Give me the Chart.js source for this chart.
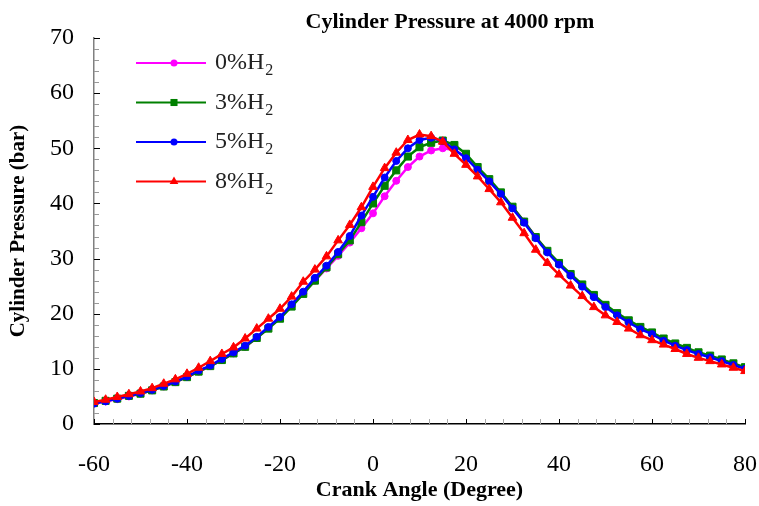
<!DOCTYPE html>
<html>
<head>
<meta charset="utf-8">
<script src="https://cdn.jsdelivr.net/npm/chart.js@4.4.0/dist/chart.umd.min.js"></script>
<style>
  html, body { margin: 0; padding: 0; background: #fff; }
  #wrap { width: 759px; height: 506px; }
</style>
</head>
<body>
<div id="wrap"><canvas id="pressureChart"></canvas></div>
<script>
// crank angle (deg) and cylinder pressure (bar)
const crankAngle = [-60, -57.5, -55, -52.5, -50, -47.5, -45, -42.5, -40, -37.5,
  -35, -32.5, -30, -27.5, -25, -22.5, -20, -17.5, -15, -12.5,
  -10, -7.5, -5, -2.5, 0, 2.5, 5, 7.5, 10, 12.5,
  15, 17.5, 20, 22.5, 25, 27.5, 30, 32.5, 35, 37.5,
  40, 42.5, 45, 47.5, 50, 52.5, 55, 57.5, 60, 62.5,
  65, 67.5, 70, 72.5, 75, 77.5, 80];

const h2_0 = [3.7, 4.1, 4.5, 5.0, 5.5, 6.1, 6.8, 7.6, 8.5, 9.5,
  10.5, 11.6, 12.8, 14.0, 15.6, 17.4, 19.2, 21.4, 23.7, 26.0,
  28.2, 30.5, 32.9, 35.5, 38.2, 41.3, 44.1, 46.6, 48.5, 49.6,
  50.0, 49.7, 48.4, 46.3, 44.2, 41.9, 39.3, 36.7, 33.9, 31.3,
  29.1, 27.1, 25.1, 23.2, 21.4, 19.9, 18.6, 17.4, 16.4, 15.3,
  14.4, 13.6, 12.8, 12.2, 11.5, 10.8, 10.1];

const h2_3 = [3.8, 4.2, 4.6, 5.1, 5.5, 6.1, 6.8, 7.6, 8.5, 9.5,
  10.5, 11.6, 12.8, 14.0, 15.6, 17.3, 19.1, 21.3, 23.6, 26.0,
  28.4, 30.8, 33.3, 36.6, 40.0, 43.2, 46.0, 48.5, 50.2, 51.0,
  51.4, 50.6, 49.0, 46.6, 44.4, 42.0, 39.4, 36.7, 33.9, 31.4,
  29.2, 27.2, 25.3, 23.4, 21.6, 20.1, 18.8, 17.6, 16.6, 15.5,
  14.6, 13.8, 13.0, 12.4, 11.7, 11.0, 10.3];

const h2_5 = [3.7, 4.1, 4.6, 5.1, 5.6, 6.2, 6.9, 7.7, 8.6, 9.7,
  10.6, 11.8, 13.0, 14.2, 15.8, 17.6, 19.4, 21.7, 24.0, 26.5,
  28.7, 31.2, 34.1, 37.8, 41.2, 44.7, 47.7, 50.0, 51.5, 51.9,
  51.3, 49.8, 48.2, 46.1, 44.0, 41.7, 39.1, 36.5, 33.7, 31.1,
  28.9, 26.9, 24.9, 23.0, 21.2, 19.7, 18.4, 17.2, 16.3, 15.1,
  14.2, 13.4, 12.7, 12.1, 11.4, 10.7, 10.0];

const h2_8 = [4.0, 4.4, 4.9, 5.4, 5.9, 6.5, 7.3, 8.1, 9.1, 10.2,
  11.4, 12.7, 13.9, 15.5, 17.3, 19.1, 20.9, 23.1, 25.8, 28.0,
  30.4, 33.3, 36.1, 39.3, 43.0, 46.4, 49.2, 51.5, 52.5, 52.2,
  51.2, 49.0, 47.0, 44.9, 42.6, 40.2, 37.4, 34.6, 31.6, 29.2,
  27.1, 25.1, 23.2, 21.2, 19.7, 18.5, 17.3, 16.1, 15.2, 14.4,
  13.6, 12.7, 12.0, 11.4, 10.8, 10.2, 9.6];

const legendText = ['0%H', '3%H', '5%H', '8%H']; // subscript 2 added when drawn

const serif = "'Liberation Serif', 'Times New Roman', serif";

function toPoints(values) {
  return values.map((v, i) => ({ x: crankAngle[i], y: v }));
}

function series(label, values, color, style, radius, order) {
  return {
    label: label,
    data: toPoints(values),
    borderColor: color,
    backgroundColor: color,
    borderWidth: 2.5,
    pointStyle: style,
    pointRadius: radius,
    pointBackgroundColor: color,
    pointBorderColor: color,
    pointBorderWidth: 1,
    tension: 0,
    order: order
  };
}

function marker(ctx, style, x, y, r) {
  ctx.beginPath();
  if (style === 'rect') {
    const s = r * Math.SQRT1_2;
    ctx.rect(x - s, y - s, 2 * s, 2 * s);
  } else if (style === 'triangle') {
    ctx.moveTo(x, y - r);
    ctx.lineTo(x + r * 0.87, y + r * 0.5);
    ctx.lineTo(x - r * 0.87, y + r * 0.5);
    ctx.closePath();
  } else {
    ctx.arc(x, y, r, 0, Math.PI * 2);
  }
  ctx.fill();
}

// small tick marks pointing into the plot
const innerTicks = {
  id: 'innerTicks',
  beforeDatasetsDraw(chart) {
    const { ctx, chartArea, scales } = chart;
    ctx.save();
    ctx.lineWidth = 1;
    for (let v = 0; v <= 70; v += 2) {
      const y = Math.round(scales.y.getPixelForValue(v)) + 0.5;
      const major = v % 10 === 0;
      ctx.strokeStyle = major ? '#000' : '#999';
      ctx.beginPath();
      ctx.moveTo(chartArea.left, y);
      ctx.lineTo(chartArea.left + (major ? 6 : 5), y);
      ctx.stroke();
    }
    for (let v = -60; v <= 80; v += 4) {
      const x = Math.round(scales.x.getPixelForValue(v)) + 0.5;
      const major = (v + 60) % 20 === 0;
      ctx.strokeStyle = major ? '#000' : '#aaa';
      ctx.beginPath();
      ctx.moveTo(x, chartArea.bottom);
      ctx.lineTo(x, chartArea.bottom - 5);
      ctx.stroke();
    }
    ctx.restore();
  }
};

const insideLegend = {
  id: 'insideLegend',
  afterDraw(chart) {
    const { ctx, chartArea } = chart;
    const x0 = chartArea.left + 42, x1 = chartArea.left + 112;
    chart.data.datasets.forEach((ds, i) => {
      const y = chartArea.top + 25 + i * 39.5;
      ctx.save();
      ctx.strokeStyle = ds.borderColor;
      ctx.fillStyle = ds.borderColor;
      ctx.lineWidth = 2;
      ctx.beginPath();
      ctx.moveTo(x0, y);
      ctx.lineTo(x1, y);
      ctx.stroke();
      marker(ctx, ds.pointStyle, x0 + 38, y, ds.pointRadius);
      ctx.fillStyle = '#222';
      ctx.textBaseline = 'middle';
      ctx.font = '24px ' + serif;
      ctx.fillText(legendText[i], x1 + 9, y);
      const w = ctx.measureText(legendText[i]).width;
      ctx.font = '16px ' + serif;
      ctx.fillText('2', x1 + 10 + w, y + 8);
      ctx.restore();
    });
  }
};

const chartTitle = {
  id: 'chartTitle',
  afterDraw(chart) {
    const { ctx } = chart;
    ctx.save();
    ctx.font = 'bold 22px ' + serif;
    ctx.fillStyle = '#000';
    ctx.textAlign = 'center';
    ctx.textBaseline = 'middle';
    ctx.fillText('Cylinder Pressure at 4000 rpm', 450, 22);
    ctx.restore();
  }
};

new Chart(document.getElementById('pressureChart'), {
  type: 'line',
  data: {
    datasets: [
      series('0%H2', h2_0, '#ff00ff', 'circle', 3.5, 4),
      series('3%H2', h2_3, '#008000', 'rect', 5, 3),
      series('5%H2', h2_5, '#0000ff', 'circle', 3.5, 2),
      series('8%H2', h2_8, '#ff0000', 'triangle', 5, 1)
    ]
  },
  options: {
    responsive: true,
    maintainAspectRatio: false,
    animation: false,
    layout: { padding: { top: 38, right: 14, bottom: 0, left: 0 } },
    plugins: {
      legend: { display: false },
      tooltip: { enabled: false }
    },
    scales: {
      x: {
        type: 'linear',
        min: -60,
        max: 80,
        ticks: { stepSize: 20, padding: 2, color: '#000', font: { family: serif, size: 24 } },
        grid: { drawOnChartArea: false, drawTicks: true, tickLength: 24, tickColor: 'rgba(0,0,0,0)' },
        border: { color: '#000', width: 1.5 },
        title: {
          display: true,
          text: 'Crank Angle (Degree)',
          color: '#000',
          font: { family: serif, size: 22, weight: 'bold' },
          padding: { top: 0, bottom: 2 }
        },
        afterFit(scale) { scale.height = 82; }
      },
      y: {
        min: 0,
        max: 70,
        ticks: { stepSize: 10, padding: 2, color: '#000', font: { family: serif, size: 24 } },
        grid: { drawOnChartArea: false, drawTicks: true, tickLength: 18, tickColor: 'rgba(0,0,0,0)' },
        border: { color: '#808080', width: 1.5 },
        title: {
          display: true,
          text: 'Cylinder Pressure (bar)',
          color: '#000',
          font: { family: serif, size: 21, weight: 'bold' },
          padding: { top: 6, bottom: 0 }
        },
        afterFit(scale) { scale.width = 94; }
      }
    }
  },
  plugins: [innerTicks, insideLegend, chartTitle]
});
</script>
</body>
</html>
